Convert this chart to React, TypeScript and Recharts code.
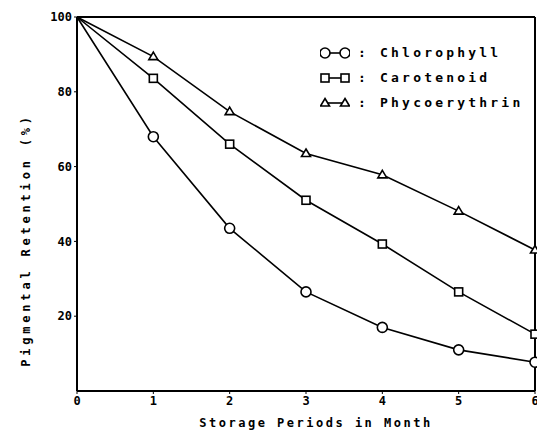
import React from 'react';
import { LineChart, Line, XAxis, YAxis, ReferenceLine } from 'recharts';

const months = [0, 1, 2, 3, 4, 5, 6];
const chlorophyll = [100, 68, 43.5, 26.5, 17, 11, 7.7];
const carotenoid = [100, 83.6, 66, 51, 39.3, 26.5, 15.2];
const phycoerythrin = [100, 89.4, 74.7, 63.5, 57.8, 48.1, 37.7];
const yTicks = [20, 40, 60, 80, 100];
const xTicks = [0, 1, 2, 3, 4, 5, 6];

const FONT = '"DejaVu Sans Mono", "Liberation Mono", monospace';

type Marker = 'circle' | 'square' | 'triangle';

const series: { key: string; name: string; marker: Marker }[] = [
    { key: 'chl', name: 'Chlorophyll', marker: 'circle' },
    { key: 'car', name: 'Carotenoid', marker: 'square' },
    { key: 'phy', name: 'Phycoerythrin', marker: 'triangle' },
];

const data = months.map((m, i) => ({
    month: m,
    chl: chlorophyll[i],
    car: carotenoid[i],
    phy: phycoerythrin[i],
}));

const drawMarker = (marker: Marker, cx: number, cy: number, key?: string | number) => {
    if (marker === 'circle') {
        return <circle key={key} cx={cx} cy={cy} r={5} fill="#fff" stroke="#000" strokeWidth={1.6} />;
    }
    if (marker === 'square') {
        return <rect key={key} x={cx - 4} y={cy - 4} width={8} height={8} fill="#fff" stroke="#000" strokeWidth={1.6} />;
    }
    return (
        <polygon
            key={key}
            points={`${cx},${cy - 4.5} ${cx + 4.5},${cy + 3} ${cx - 4.5},${cy + 3}`}
            fill="#fff"
            stroke="#000"
            strokeWidth={1.6}
        />
    );
};

const makeDot = (marker: Marker) => (props: any) => {
    const { cx, cy, index } = props;
    if (index === 0) return <g key={`d-${index}`} />;
    return drawMarker(marker, cx, cy, `d-${index}`);
};

const tickStyle = { fill: '#000', fontFamily: FONT, fontSize: 12, fontWeight: 700 };
const labelStyle = { fill: '#000', fontFamily: FONT, fontSize: 12, fontWeight: 700 };

const App: React.FC = () => {
    return (
        <div style={{ position: 'relative', width: 537, height: 423 }}>
            <LineChart width={537} height={423} data={data} margin={{ top: 9, right: 10, left: 9, bottom: 0 }}>
                <XAxis
                    dataKey="month"
                    type="number"
                    domain={[0, 6]}
                    ticks={xTicks}
                    tick={tickStyle}
                    tickLine={{ stroke: '#000' }}
                    tickSize={3}
                    axisLine={{ stroke: '#000', strokeWidth: 2 }}
                    height={40}
                    label={{
                        value: 'Storage Periods in Month',
                        position: 'insideBottom',
                        offset: 4,
                        dx: 10,
                        style: { ...labelStyle, letterSpacing: 2.5 },
                    }}
                />
                <YAxis
                    type="number"
                    domain={[0, 100]}
                    ticks={yTicks}
                    tick={tickStyle}
                    tickLine={{ stroke: '#000' }}
                    tickSize={3}
                    axisLine={{ stroke: '#000', strokeWidth: 2 }}
                    width={60}
                    label={{
                        content: () => (
                            <text
                                x={18}
                                y={232}
                                transform="rotate(-90 18 232)"
                                textAnchor="middle"
                                dominantBaseline="central"
                                style={{ ...labelStyle, letterSpacing: 3.8 }}
                            >
                                Pigmental Retention (%)
                            </text>
                        ),
                    }}
                />
                <ReferenceLine y={100} stroke="#000" strokeWidth={2} />
                <ReferenceLine x={6} stroke="#000" strokeWidth={2} />
                {series.map(s => (
                    <Line
                        key={s.key}
                        type="linear"
                        dataKey={s.key}
                        name={s.name}
                        stroke="#000"
                        strokeWidth={1.6}
                        dot={makeDot(s.marker)}
                        activeDot={false}
                        isAnimationActive={false}
                    />
                ))}
            </LineChart>
            <div style={{ position: 'absolute', left: 312, top: 32, fontFamily: FONT, fontSize: 13, fontWeight: 700, letterSpacing: 3.2 }}>
                {series.map(s => (
                    <div key={s.key} style={{ display: 'flex', alignItems: 'center', height: 25 }}>
                        <svg width={30} height={14}>
                            <line x1={4} y1={7} x2={26} y2={7} stroke="#000" strokeWidth={1.6} />
                            {drawMarker(s.marker, 5, 7)}
                            {drawMarker(s.marker, 25, 7)}
                        </svg>
                        <span style={{ marginLeft: 8 }}>: {s.name}</span>
                    </div>
                ))}
            </div>
        </div>
    );
};

export default App;
